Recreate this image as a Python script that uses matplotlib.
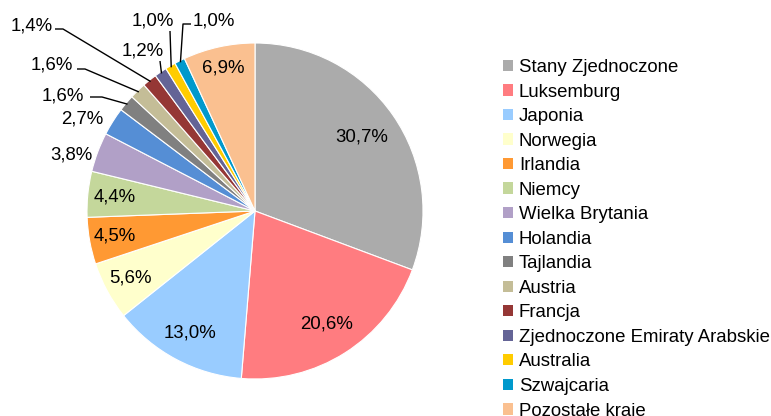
import numpy as np
import matplotlib
matplotlib.use("Agg")
import matplotlib.pyplot as plt

plt.rcParams["font.family"] = ["Liberation Sans", "DejaVu Sans"]

# data
countries = ["Stany Zjednoczone", "Luksemburg", "Japonia", "Norwegia", "Irlandia",
             "Niemcy", "Wielka Brytania", "Holandia", "Tajlandia", "Austria",
             "Francja", "Zjednoczone Emiraty Arabskie", "Australia", "Szwajcaria",
             "Pozostałe kraje"]
shares = [30.7, 20.6, 13.0, 5.6, 4.5, 4.4, 3.8, 2.7, 1.6, 1.6, 1.4, 1.2, 1.0, 1.0, 6.9]
colors = ["#ABABAB", "#FF7C80", "#99CCFF", "#FFFFCC", "#FF9933", "#C4D79B",
          "#B1A0C7", "#558ED5", "#808080", "#C4BD97", "#953735", "#646496",
          "#FFCC00", "#0099CC", "#FAC090"]

# layout (pixels in a 771x416 figure)
CX, CY, R = 255, 211, 168
FS = 13.4
# radial factor for labels drawn inside the slices
inside = {0: 0.77, 1: 0.80, 2: 0.82, 3: 0.84, 4: 0.85, 5: 0.84, 14: 0.87}
# labels placed freely outside, no leader
outside = {6: (71, 155), 7: (82, 119)}
# labels with leader lines: text centre, line start, kink
leaders = {
    8:  ((63, 96), (90, 97), (102, 97)),
    9:  ((52, 65), (77, 69), (85, 69)),
    10: ((32, 26), (55, 29), (63, 29)),
    11: ((143, 51), (160, 61), (160, 61)),
    12: ((153, 21), (170, 31), (170, 31)),
    13: ((214, 21), (191, 24), (183, 24)),
}

W, H = 771, 416
fig = plt.figure(figsize=(W / 100, H / 100), dpi=100)
S = 260
ax = fig.add_axes([(CX - S) / W, (H - CY - S) / H, 2 * S / W, 2 * S / H])


def px(p):
    return ((p[0] - CX) / R, (CY - p[1]) / R)


wedges, _ = ax.pie(shares, colors=colors, startangle=90, counterclock=False,
                   radius=1, wedgeprops=dict(edgecolor="white", linewidth=0.8))
ax.set_xlim(-S / R, S / R)
ax.set_ylim(-S / R, S / R)
ax.axis("off")

for i, (w, v) in enumerate(zip(wedges, shares)):
    txt = f"{v:.1f}%".replace(".", ",")
    mid = np.deg2rad((w.theta1 + w.theta2) / 2)
    if i in inside:
        r = inside[i]
        ax.text(r * np.cos(mid), r * np.sin(mid), txt, ha="center", va="center", fontsize=FS)
    elif i in outside:
        ax.text(*px(outside[i]), txt, ha="center", va="center", fontsize=FS)
    else:
        tpos, start, kink = leaders[i]
        ax.text(*px(tpos), txt, ha="center", va="center", fontsize=FS, clip_on=False)
        end = (0.99 * np.cos(mid), 0.99 * np.sin(mid))
        pts = [px(start), px(kink), end]
        ax.plot([p[0] for p in pts], [p[1] for p in pts], color="black", lw=1,
                solid_capstyle="butt", clip_on=False)

leg = fig.legend(wedges, countries, loc="upper left", bbox_to_anchor=(503 / W, 1 - 59 / H),
                 frameon=False, fontsize=FS, handlelength=0.55, handleheight=0.55,
                 handletextpad=0.3, labelspacing=0.405, borderpad=0, borderaxespad=0)
for h in leg.legend_handles:
    h.set_edgecolor("none")

fig.savefig("out.png", dpi=100)
